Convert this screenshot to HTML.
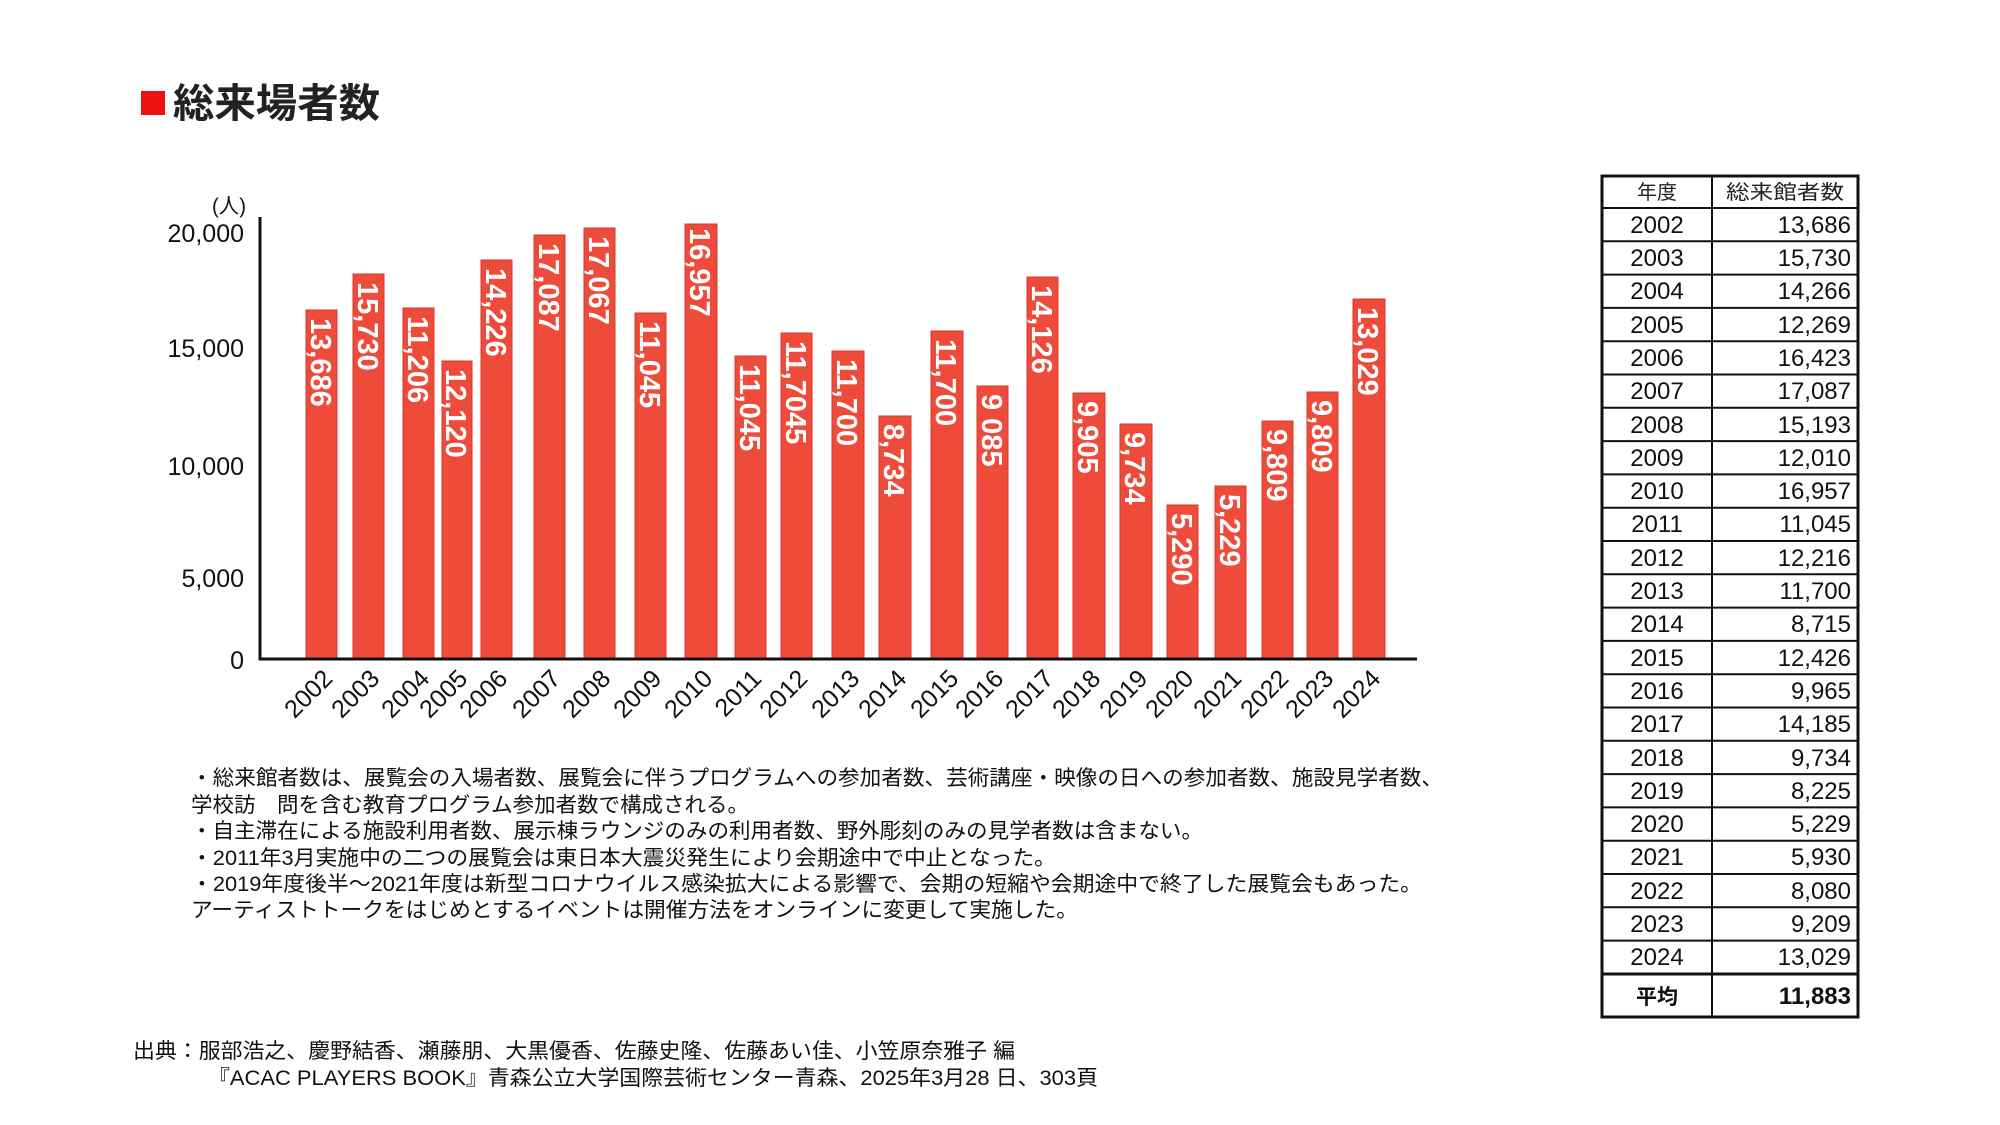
<!DOCTYPE html>
<html><head><meta charset="utf-8"><style>
html,body{margin:0;padding:0;background:#fff;}
svg{display:block;}
.cj{font-family:"Liberation Sans","Noto Sans CJK JP",sans-serif;}
</style></head><body>
<svg width="2000" height="1125" viewBox="0 0 2000 1125" xmlns="http://www.w3.org/2000/svg" class="cj">
<rect width="2000" height="1125" fill="#fff"/>
<!-- title -->
<rect x="141" y="91" width="24" height="24" fill="#ee1111"/>
<text x="173" y="117" font-size="40" font-weight="bold" fill="#222" textLength="207" lengthAdjust="spacingAndGlyphs">総来場者数</text>

<!-- y axis labels -->
<g font-size="25" fill="#111" text-anchor="end">
<text x="246" y="213" font-size="21" textLength="34" lengthAdjust="spacingAndGlyphs">(人)</text>
<text x="244" y="242">20,000</text>
<text x="244" y="357">15,000</text>
<text x="244" y="475">10,000</text>
<text x="244" y="587">5,000</text>
<text x="244" y="669">0</text>
</g>

<!-- bars -->
<g fill="#ee4b3b" stroke="#d63a2c" stroke-width="1">
<rect x="306" y="310" width="31" height="349"/>
<rect x="353" y="274" width="31" height="385"/>
<rect x="403" y="308" width="31" height="351"/>
<rect x="442" y="361" width="30" height="298"/>
<rect x="481" y="260" width="31" height="399"/>
<rect x="534" y="235" width="31" height="424"/>
<rect x="584" y="228" width="31" height="431"/>
<rect x="635" y="313" width="31" height="346"/>
<rect x="685" y="224" width="32" height="435"/>
<rect x="735" y="356" width="31" height="303"/>
<rect x="781" y="333" width="31" height="326"/>
<rect x="832" y="351" width="32" height="308"/>
<rect x="879" y="416" width="32" height="243"/>
<rect x="931" y="331" width="32" height="328"/>
<rect x="977" y="386" width="31" height="273"/>
<rect x="1027" y="277" width="31" height="382"/>
<rect x="1073" y="393" width="32" height="266"/>
<rect x="1120" y="424" width="32" height="235"/>
<rect x="1167" y="505" width="31" height="154"/>
<rect x="1215" y="486" width="31" height="173"/>
<rect x="1262" y="421" width="31" height="238"/>
<rect x="1307" y="392" width="31" height="267"/>
<rect x="1353" y="299" width="32" height="360"/>
</g>

<!-- bar labels -->
<g font-size="29" font-weight="bold" fill="#fff">
<text transform="translate(311,318) rotate(90)">13,686</text>
<text transform="translate(358,282) rotate(90)">15,730</text>
<text transform="translate(408,316) rotate(90)">11,206</text>
<text transform="translate(446,369) rotate(90)">12,120</text>
<text transform="translate(486,268) rotate(90)">14,226</text>
<text transform="translate(539,243) rotate(90)">17,087</text>
<text transform="translate(589,236) rotate(90)">17,067</text>
<text transform="translate(640,321) rotate(90)">11,045</text>
<text transform="translate(690,228) rotate(90)">16,957</text>
<text transform="translate(740,364) rotate(90)">11,045</text>
<text transform="translate(786,341) rotate(90)">11,7045</text>
<text transform="translate(837,359) rotate(90)">11,700</text>
<text transform="translate(884,424) rotate(90)">8,734</text>
<text transform="translate(936,339) rotate(90)">11,700</text>
<text transform="translate(982,394) rotate(90)">9 085</text>
<text transform="translate(1032,285) rotate(90)">14,126</text>
<text transform="translate(1078,401) rotate(90)">9,905</text>
<text transform="translate(1125,432) rotate(90)">9,734</text>
<text transform="translate(1172,513) rotate(90)">5,290</text>
<text transform="translate(1220,494) rotate(90)">5,229</text>
<text transform="translate(1267,429) rotate(90)">9,809</text>
<text transform="translate(1312,400) rotate(90)">9,809</text>
<text transform="translate(1358,307) rotate(90)">13,029</text>
</g>

<!-- axes -->
<line x1="260" y1="217" x2="260" y2="660" stroke="#111" stroke-width="3"/>
<line x1="259" y1="659" x2="1417" y2="659" stroke="#111" stroke-width="3"/>

<!-- year labels -->
<g font-size="25" fill="#111" text-anchor="end">
<text transform="translate(334,680) rotate(-45)">2002</text>
<text transform="translate(381,680) rotate(-45)">2003</text>
<text transform="translate(431,680) rotate(-45)">2004</text>
<text transform="translate(469,680) rotate(-45)">2005</text>
<text transform="translate(509,680) rotate(-45)">2006</text>
<text transform="translate(562,680) rotate(-45)">2007</text>
<text transform="translate(612,680) rotate(-45)">2008</text>
<text transform="translate(663,680) rotate(-45)">2009</text>
<text transform="translate(714,680) rotate(-45)">2010</text>
<text transform="translate(763,680) rotate(-45)">2011</text>
<text transform="translate(809,680) rotate(-45)">2012</text>
<text transform="translate(861,680) rotate(-45)">2013</text>
<text transform="translate(908,680) rotate(-45)">2014</text>
<text transform="translate(960,680) rotate(-45)">2015</text>
<text transform="translate(1005,680) rotate(-45)">2016</text>
<text transform="translate(1055,680) rotate(-45)">2017</text>
<text transform="translate(1102,680) rotate(-45)">2018</text>
<text transform="translate(1149,680) rotate(-45)">2019</text>
<text transform="translate(1195,680) rotate(-45)">2020</text>
<text transform="translate(1243,680) rotate(-45)">2021</text>
<text transform="translate(1290,680) rotate(-45)">2022</text>
<text transform="translate(1335,680) rotate(-45)">2023</text>
<text transform="translate(1382,680) rotate(-45)">2024</text>
</g>

<!-- notes -->
<g font-size="21" fill="#111" lengthAdjust="spacingAndGlyphs">
<text x="191" y="785" textLength="1252" lengthAdjust="spacingAndGlyphs">・総来館者数は、展覧会の入場者数、展覧会に伴うプログラムへの参加者数、芸術講座・映像の日への参加者数、施設見学者数、</text>
<text x="191" y="812" textLength="558" lengthAdjust="spacingAndGlyphs">学校訪　問を含む教育プログラム参加者数で構成される。</text>
<text x="191" y="838" textLength="1012" lengthAdjust="spacingAndGlyphs">・自主滞在による施設利用者数、展示棟ラウンジのみの利用者数、野外彫刻のみの見学者数は含まない。</text>
<text x="191" y="865" textLength="865" lengthAdjust="spacingAndGlyphs">・2011年3月実施中の二つの展覧会は東日本大震災発生により会期途中で中止となった。</text>
<text x="191" y="891" textLength="1231" lengthAdjust="spacingAndGlyphs">・2019年度後半～2021年度は新型コロナウイルス感染拡大による影響で、会期の短縮や会期途中で終了した展覧会もあった。</text>
<text x="191" y="917" textLength="887" lengthAdjust="spacingAndGlyphs">アーティストトークをはじめとするイベントは開催方法をオンラインに変更して実施した。</text>
</g>

<!-- source -->
<g font-size="21" fill="#111">
<text x="133" y="1058" textLength="882" lengthAdjust="spacingAndGlyphs">出典：服部浩之、慶野結香、瀬藤朋、大黒優香、佐藤史隆、佐藤あい佳、小笠原奈雅子 編</text>
<text x="208" y="1085" textLength="890" lengthAdjust="spacingAndGlyphs">『ACAC PLAYERS BOOK』青森公立大学国際芸術センター青森、2025年3月28 日、303頁</text>
</g>

<!-- table -->
<g stroke="#111" fill="none">
<rect x="1602" y="176" width="256" height="841" stroke-width="3"/>
<line x1="1712" y1="176" x2="1712" y2="1017" stroke-width="2"/>
<line x1="1602" y1="208" x2="1858" y2="208" stroke-width="2"/>
<line x1="1602" y1="241.3" x2="1858" y2="241.3" stroke-width="2"/>
<line x1="1602" y1="274.6" x2="1858" y2="274.6" stroke-width="2"/>
<line x1="1602" y1="307.9" x2="1858" y2="307.9" stroke-width="2"/>
<line x1="1602" y1="341.2" x2="1858" y2="341.2" stroke-width="2"/>
<line x1="1602" y1="374.5" x2="1858" y2="374.5" stroke-width="2"/>
<line x1="1602" y1="407.8" x2="1858" y2="407.8" stroke-width="2"/>
<line x1="1602" y1="441.1" x2="1858" y2="441.1" stroke-width="2"/>
<line x1="1602" y1="474.4" x2="1858" y2="474.4" stroke-width="2"/>
<line x1="1602" y1="507.7" x2="1858" y2="507.7" stroke-width="2"/>
<line x1="1602" y1="541" x2="1858" y2="541" stroke-width="2"/>
<line x1="1602" y1="574.3" x2="1858" y2="574.3" stroke-width="2"/>
<line x1="1602" y1="607.6" x2="1858" y2="607.6" stroke-width="2"/>
<line x1="1602" y1="640.9" x2="1858" y2="640.9" stroke-width="2"/>
<line x1="1602" y1="674.2" x2="1858" y2="674.2" stroke-width="2"/>
<line x1="1602" y1="707.5" x2="1858" y2="707.5" stroke-width="2"/>
<line x1="1602" y1="740.8" x2="1858" y2="740.8" stroke-width="2"/>
<line x1="1602" y1="774.1" x2="1858" y2="774.1" stroke-width="2"/>
<line x1="1602" y1="807.4" x2="1858" y2="807.4" stroke-width="2"/>
<line x1="1602" y1="840.7" x2="1858" y2="840.7" stroke-width="2"/>
<line x1="1602" y1="874" x2="1858" y2="874" stroke-width="2"/>
<line x1="1602" y1="907.3" x2="1858" y2="907.3" stroke-width="2"/>
<line x1="1602" y1="940.6" x2="1858" y2="940.6" stroke-width="2"/>
<line x1="1602" y1="974" x2="1858" y2="974" stroke-width="3"/>
</g>
<g font-size="20" fill="#222" text-anchor="middle">
<text x="1657" y="199">年度</text>
<text x="1785" y="199" textLength="118" lengthAdjust="spacingAndGlyphs">総来館者数</text>
</g>
<g font-size="24" fill="#111">
<g text-anchor="middle">
<text x="1657" y="233">2002</text><text x="1657" y="266">2003</text><text x="1657" y="299">2004</text><text x="1657" y="333">2005</text>
<text x="1657" y="366">2006</text><text x="1657" y="399">2007</text><text x="1657" y="433">2008</text><text x="1657" y="466">2009</text>
<text x="1657" y="499">2010</text><text x="1657" y="532">2011</text><text x="1657" y="566">2012</text><text x="1657" y="599">2013</text>
<text x="1657" y="632">2014</text><text x="1657" y="666">2015</text><text x="1657" y="699">2016</text><text x="1657" y="732">2017</text>
<text x="1657" y="766">2018</text><text x="1657" y="799">2019</text><text x="1657" y="832">2020</text><text x="1657" y="865">2021</text>
<text x="1657" y="899">2022</text><text x="1657" y="932">2023</text><text x="1657" y="965">2024</text>
<text x="1657" y="1004" font-size="21" font-weight="bold">平均</text>
</g>
<g text-anchor="end">
<text x="1851" y="233">13,686</text><text x="1851" y="266">15,730</text><text x="1851" y="299">14,266</text><text x="1851" y="333">12,269</text>
<text x="1851" y="366">16,423</text><text x="1851" y="399">17,087</text><text x="1851" y="433">15,193</text><text x="1851" y="466">12,010</text>
<text x="1851" y="499">16,957</text><text x="1851" y="532">11,045</text><text x="1851" y="566">12,216</text><text x="1851" y="599">11,700</text>
<text x="1851" y="632">8,715</text><text x="1851" y="666">12,426</text><text x="1851" y="699">9,965</text><text x="1851" y="732">14,185</text>
<text x="1851" y="766">9,734</text><text x="1851" y="799">8,225</text><text x="1851" y="832">5,229</text><text x="1851" y="865">5,930</text>
<text x="1851" y="899">8,080</text><text x="1851" y="932">9,209</text><text x="1851" y="965">13,029</text>
<text x="1851" y="1004" font-weight="bold">11,883</text>
</g>
</g>
</svg>
</body></html>
